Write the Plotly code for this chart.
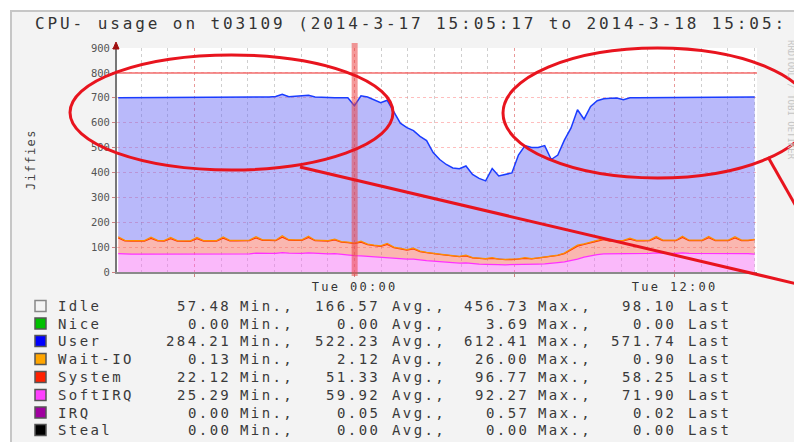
import pandas as pd
import plotly.graph_objects as go

# ---------------- data ----------------
times = pd.date_range("2014-03-17 15:08:00", "2014-03-18 15:00:00", periods=98)

softirq = [74, 72, 72, 72,  72, 74, 72, 72,  74, 72, 71, 71,  74, 72, 72, 72,
           74, 72, 72, 73,  73, 76, 74, 75,  75, 78, 76, 75,  75, 77, 75, 74,
           73, 74, 71, 69,  66, 65, 63, 61,  59, 60, 56, 54,  52, 52, 48, 46,
           44, 42, 40, 38,  36, 37, 33, 32,  31, 32, 30, 29,  29, 29, 30, 30,
           32, 33, 34, 38,  41, 46, 52, 60,  66, 70, 73, 73,  74, 75, 76, 75,
           75, 75, 77, 75,  75, 75, 77, 75,  75, 75, 77, 75,  75, 75, 77, 75,
           74, 72]
system = [63, 53, 52, 52,  52, 61, 53, 52,  60, 52, 52, 52,  60, 52, 52, 52,
          62, 53, 53, 52,  53, 61, 53, 52,  51, 62, 52, 52,  52, 62, 51, 51,
          51, 55, 49, 49,  48, 55, 47, 45,  44, 51, 42, 39,  36, 41, 34, 32,
          29, 29, 28, 27,  26, 28, 24, 23,  22, 23, 21, 21,  21, 23, 25, 23,
          24, 26, 28, 29,  33, 44, 52, 51,  52, 52, 57, 50,  50, 50, 56, 50,
          50, 51, 61, 51,  51, 51, 62, 51,  51, 51, 61, 51,  51, 51, 60, 51,
          52, 58]
wait_io = [5, 2, 2, 2,  2, 5, 2, 2,  5, 2, 2, 2,  5, 2, 2, 2,
           5, 2, 2, 2,  2, 5, 2, 2,  2, 6, 2, 2,  2, 5, 2, 2,
           2, 3, 2, 2,  2, 4, 2, 2,  2, 4, 2, 2,  2, 3, 2, 1,
           1, 1, 1, 1,  1, 3, 1, 1,  1, 3, 1, 1,  1, 1, 3, 1,
           1, 1, 1, 1,  2, 2, 4, 2,  2, 2, 4, 2,  2, 2, 4, 2,
           2, 2, 5, 2,  2, 2, 5, 2,  2, 2, 5, 2,  2, 2, 5, 2,
           2, 1]
user = [558, 573, 574, 574,  576, 560, 573, 574,  563, 574, 575, 575,  562, 574, 574, 574,
        559, 573, 573, 573,  574, 558, 571, 574,  577, 568, 574, 577,  579, 566, 575, 574,
        574, 568, 578, 580,  552, 584, 591, 584,  575, 575, 542, 503,  490, 472, 461, 449,
        406, 380, 363, 352,  352, 358, 334, 320,  312, 358, 334, 341,  347, 417, 450, 446,
        443, 448, 389, 402,  454, 486, 544, 501,  545, 564, 562, 573,  573, 565, 564, 573,
        573, 572, 557, 572,  572, 572, 556, 572,  572, 572, 557, 572,  572, 572, 558, 572,
        572, 572]

x_range = ["2014-03-17 15:05:17", "2014-03-18 15:05:17"]
major_ticks = ["2014-03-17 18:00", "2014-03-18 00:00", "2014-03-18 06:00", "2014-03-18 12:00"]
major_labels = ["", "Tue 00:00", "", "Tue 12:00"]
midnight = "2014-03-18 00:00"
y_ticks = [0, 100, 200, 300, 400, 500, 600, 700, 800, 900]
limit_line = 800

title_text = "CPU- usage on t03109 (2014-3-17 15:05:17 to 2014-3-18 15:05:"

legend_names = ["Idle", "Nice", "User", "Wait-IO", "System", "SoftIRQ", "IRQ", "Steal"]
legend_colors = ["#f4f4f4", "#00c000", "#0000ff", "#ffa500", "#ff2000", "#ff40ff", "#a000a0", "#000000"]
mins = ["57.48", "0.00", "284.21", "0.13", "22.12", "25.29", "0.00", "0.00"]
avgs = ["166.57", "0.00", "522.23", "2.12", "51.33", "59.92", "0.05", "0.00"]
maxs = ["456.73", "3.69", "612.41", "26.00", "96.77", "92.27", "0.57", "0.00"]
lasts = ["98.10", "0.00", "571.74", "0.90", "58.25", "71.90", "0.02", "0.00"]

# ---------------- layout helpers (page pixel -> paper) ----------------
# the page body has an 8px margin, so the figure is 794x434 placed at (8, 8)
PAGE_OFF = 8
FIG_W, FIG_H = 802 - PAGE_OFF, 442 - PAGE_OFF
L, R, T, B = 117, 757, 48, 272   # plot area in page pixels


def px(x):
    return (x - L) / (R - L)


def py(y):
    return (B - y) / (B - T)


def spaced(s, ls):
    return f'<span style="letter-spacing:{ls}px">{s}</span>'


MONO = "DejaVu Sans Mono"

fig = go.Figure()


def area(name, vals, line_color, fill_color, width):
    fig.add_trace(go.Scatter(
        x=times, y=vals, name=name, mode="lines", stackgroup="cpu",
        line=dict(color=line_color, width=width), fillcolor=fill_color,
        hoverinfo="skip"))


area("SoftIRQ", softirq, "#ff30ff", "rgba(245,100,245,0.45)", 1.2)
area("System", system, "#ff3010", "rgba(244,95,80,0.45)", 1.2)
area("Wait-IO", wait_io, "#ff8c00", "rgba(255,150,0,0.45)", 1.2)
area("User", user, "#1a3cff", "rgba(99,99,245,0.45)", 1.5)

fig.update_layout(
    width=FIG_W, height=FIG_H,
    margin=dict(l=L - PAGE_OFF, r=802 - R, t=T - PAGE_OFF, b=442 - B, pad=0),
    paper_bgcolor="#f3f3f3", plot_bgcolor="#ffffff",
    showlegend=False,
    font=dict(family=MONO, color="#3a3a3a"),
)

fig.update_xaxes(
    type="date", range=x_range, automargin=False, fixedrange=True,
    tickmode="array", tickvals=major_ticks,
    ticktext=[spaced(t, 2.3) for t in major_labels],
    tickfont=dict(family=MONO, size=12, color="#333"),
    showgrid=True, gridcolor="rgba(255,110,110,0.55)", griddash="dot", gridwidth=1,
    minor=dict(tickmode="linear", tick0="2014-03-17 00:00", dtick=3600000,
               showgrid=True, gridcolor="rgba(160,160,160,0.5)", griddash="dot", ticks=""),
    showline=True, linecolor="#8a8a8a", linewidth=2,
    ticks="outside", ticklen=3, tickcolor="#d08080",
    zeroline=False,
)
fig.update_yaxes(
    range=[0, 900], automargin=False, fixedrange=True,
    tickmode="array", tickvals=y_ticks,
    tickfont=dict(family=MONO, size=10.5, color="#555"),
    showgrid=True, gridcolor="rgba(255,110,110,0.45)", griddash="dot", gridwidth=1,
    showline=True, linecolor="#777", linewidth=2,
    ticks="outside", ticklen=3, tickcolor="#d08080",
    zeroline=False,
)

shapes = []
# outer frame: white margin strips + grey border
shapes.append(dict(type="rect", xref="paper", yref="paper", x0=px(0), x1=px(810), y0=py(10), y1=py(0),
                   fillcolor="#ffffff", line=dict(width=0), layer="above"))
shapes.append(dict(type="rect", xref="paper", yref="paper", x0=px(0), x1=px(10), y0=py(450), y1=py(0),
                   fillcolor="#ffffff", line=dict(width=0), layer="above"))
shapes.append(dict(type="line", xref="paper", yref="paper", x0=px(10), x1=px(810), y0=py(11), y1=py(11),
                   line=dict(color="#c6c6c6", width=2), layer="above"))
shapes.append(dict(type="line", xref="paper", yref="paper", x0=px(11), x1=px(11), y0=py(11), y1=py(450),
                   line=dict(color="#c6c6c6", width=2), layer="above"))

# midnight marker and limit line
shapes.append(dict(type="line", xref="x", yref="paper", x0=midnight, x1=midnight, y0=py(276), y1=py(43),
                   line=dict(color="rgba(235,70,70,0.55)", width=6), layer="above"))
shapes.append(dict(type="line", xref="paper", yref="y", x0=0, x1=1, y0=limit_line, y1=limit_line,
                   line=dict(color="rgba(240,100,100,0.7)", width=2), layer="above"))
# arrow on top of y axis
shapes.append(dict(type="path", xref="paper", yref="paper",
                   path=f"M {px(113)},{py(49)} L {px(119)},{py(49)} L {px(116)},{py(42)} Z",
                   fillcolor="#a01010", line=dict(color="#a01010", width=1), layer="above"))

# hand-drawn red annotations
RED = "rgb(232,20,30)"
shapes.append(dict(type="circle", xref="paper", yref="paper", x0=px(70), x1=px(393), y0=py(170), y1=py(55),
                   line=dict(color=RED, width=3), layer="above"))
shapes.append(dict(type="circle", xref="paper", yref="paper", x0=px(503), x1=px(812), y0=py(178), y1=py(48),
                   line=dict(color=RED, width=3), layer="above"))
shapes.append(dict(type="line", xref="paper", yref="paper", x0=px(300), y0=py(167), x1=px(806), y1=py(286),
                   line=dict(color=RED, width=3), layer="above"))
shapes.append(dict(type="line", xref="paper", yref="paper", x0=px(768), y0=py(157), x1=px(810), y1=py(231),
                   line=dict(color=RED, width=3), layer="above"))

annotations = []
annotations.append(dict(text=spaced(title_text, 2.9), xref="paper", yref="paper", x=px(34), y=py(24),
                        xanchor="left", yanchor="middle", showarrow=False, borderpad=0,
                        font=dict(family=MONO, size=16, color="#333")))
annotations.append(dict(text=spaced("Jiffies", 1.5), xref="paper", yref="paper", x=px(31), y=py(160),
                        xanchor="center", yanchor="middle", textangle=-90, showarrow=False,
                        font=dict(family=MONO, size=12, color="#444")))
annotations.append(dict(text="RRDTOOL / TOBI OETIKER", xref="paper", yref="paper", x=px(791), y=py(100),
                        xanchor="center", yanchor="middle", textangle=90, showarrow=False,
                        font=dict(family=MONO, size=9, color="#c4c4c4")))

row_y = [306, 323.5, 341, 359, 377, 395, 412.5, 430]
LS = 2.4
for i, name in enumerate(legend_names):
    yc = row_y[i]
    shapes.append(dict(type="rect", xref="paper", yref="paper", x0=px(35), x1=px(46),
                       y0=py(yc + 5.5), y1=py(yc - 5.5), fillcolor=legend_colors[i],
                       line=dict(color="#555" if i else "#888", width=1.5), layer="above"))
    pieces = [
        (name, 57, "left"),
        (mins[i], 232, "right"), ("Min.,", 239, "left"),
        (avgs[i], 381, "right"), ("Avg.,", 391, "left"),
        (maxs[i], 530, "right"), ("Max.,", 537, "left"),
        (lasts[i], 677, "right"), ("Last", 687, "left"),
    ]
    for txt, xp, anc in pieces:
        annotations.append(dict(text=spaced(txt, LS), xref="paper", yref="paper", x=px(xp), y=py(yc),
                                xanchor=anc, yanchor="middle", showarrow=False, borderpad=0,
                                font=dict(family=MONO, size=14, color="#3a3a3a")))

fig.update_layout(shapes=shapes, annotations=annotations)
fig.write_html("out.html")
